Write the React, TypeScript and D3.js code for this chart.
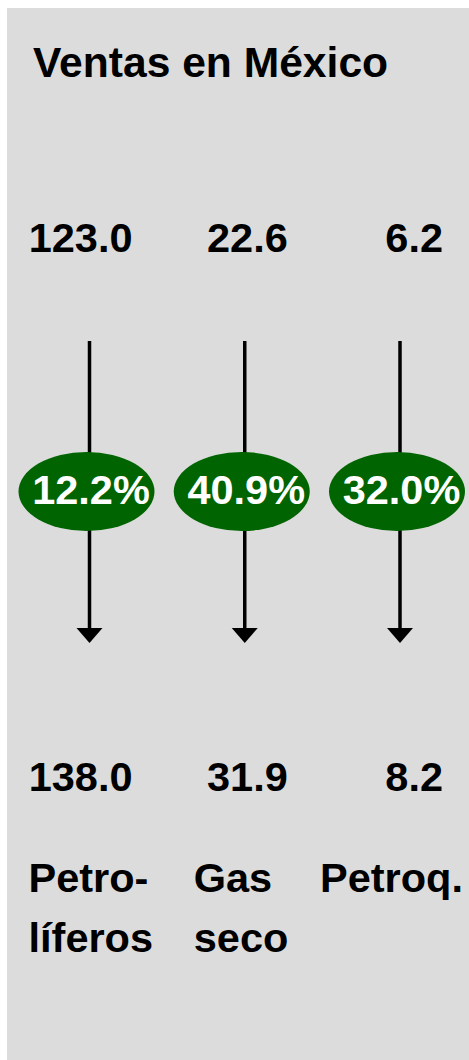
import React from "react";
import * as d3 from "d3";

const title = "Ventas en México";
const categories = ["Petrolíferos", "Gas seco", "Petroq."];
const labelLines = [["Petro-", "líferos"], ["Gas", "seco"], ["Petroq."]];
const startValues = [123.0, 22.6, 6.2];
const endValues = [138.0, 31.9, 8.2];
const growthPct = [12.2, 40.9, 32.0];

const W = 469;
const H = 1060;
const FONT = "'Liberation Sans', Arial, Helvetica, sans-serif";
const LABEL_DX = [-61, -51, -80];

export default function App() {
  const x = d3.scalePoint<string>().domain(categories).range([89.5, 400]);
  const fmt = d3.format(".1f");

  return (
    <svg
      width={W}
      height={H}
      style={{ position: "absolute", left: 0, top: 0, display: "block" }}
    >
      <rect x={7} y={8} width={W - 7} height={H - 8} fill="#dcdcdc" />
      <text x={33} y={77} fontFamily={FONT} fontWeight="bold" fontSize={42.6} fill="#000">
        {title}
      </text>
      {categories.map((c, i) => {
        const cx = x(c) as number;
        return (
          <g key={c}>
            <text
              x={cx + 43}
              y={252}
              textAnchor="end"
              fontFamily={FONT}
              fontWeight="bold"
              fontSize={41.5}
              fill="#000"
            >
              {fmt(startValues[i])}
            </text>
            <line x1={cx} x2={cx} y1={341} y2={629} stroke="#000" strokeWidth={3.5} />
            <path
              d={`M${cx - 13},628 L${cx + 13},628 L${cx},643 Z`}
              fill="#000"
            />
            <ellipse cx={cx - 3} cy={491.5} rx={68} ry={39.5} fill="#006400" />
            <text
              x={cx + 1.5}
              y={504}
              textAnchor="middle"
              fontFamily={FONT}
              fontWeight="bold"
              fontSize={41.5}
              fill="#fff"
            >
              {fmt(growthPct[i]) + "%"}
            </text>
            <text
              x={cx + 43}
              y={791}
              textAnchor="end"
              fontFamily={FONT}
              fontWeight="bold"
              fontSize={41.5}
              fill="#000"
            >
              {fmt(endValues[i])}
            </text>
            {labelLines[i].map((ln, j) => (
              <text
                key={j}
                x={cx + LABEL_DX[i]}
                y={892 + j * 60}
                fontFamily={FONT}
                fontWeight="bold"
                fontSize={41.5}
                fill="#000"
              >
                {ln}
              </text>
            ))}
          </g>
        );
      })}
    </svg>
  );
}
